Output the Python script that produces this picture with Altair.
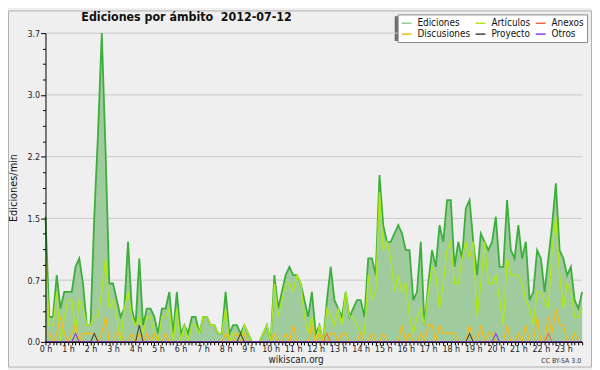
import altair as alt
import pandas as pd

FONT = "DejaVu Sans Condensed, DejaVu Sans, sans-serif"

title_text = "Ediciones por ámbito\u00a0 2012-07-12"
y_title = "Ediciones/min"
series_names = ["Ediciones", "Artículos", "Anexos", "Discusiones", "Proyecto", "Otros"]
series_colors = ["#8fce8f", "#aee81a", "#f06a3a", "#f2bb1a", "#444444", "#8a3be0"]

# 10-minute slots, edits per minute
ediciones = [
    1.5, 0.3, 0.3, 0.8, 0.4, 0.6, 0.6, 0.6, 0.9, 1.0, 0.7, 0.2, 0.2,
    1.5, 2.5, 3.7, 2.3, 0.7, 0.7, 0.5, 0.3, 0.4, 1.2, 0.4, 0.2, 1.0, 0.2, 0.4, 0.4, 0.3, 0.1, 0.4, 0.4, 0.6, 0.1, 0.6,
    0.1, 0.2, 0.1, 0.3, 0.3, 0.1, 0.3, 0.3, 0.2, 0.2, 0.1, 0.1, 0.6, 0.1, 0.2, 0.2, 0.1, 0.2, 0.1, 0.0, 0.0, 0.0, 0.1, 0.2, 0.0,
    0.8, 0.4, 0.6, 0.8, 0.9, 0.8, 0.8, 0.7, 0.5, 0.3, 0.6, 0.1, 0.2, 0.0, 0.5, 0.9, 0.5, 0.4, 0.3, 0.6, 0.3, 0.4, 0.5, 0.5, 0.3, 1.0, 1.0, 0.8, 2.0, 1.4, 1.2, 1.2, 1.3,
    1.4, 1.3, 1.1, 1.1, 0.5, 0.6, 1.2, 0.2, 0.7, 1.1, 0.9, 1.4, 1.2, 1.7, 1.7, 0.9, 1.2, 1.0, 1.6, 1.7, 1.2, 0.8, 1.3, 1.2, 1.1,
    1.2, 1.5, 0.9, 0.9, 1.7, 1.1, 1.0, 1.4, 1.0, 1.2, 0.5, 0.6, 1.1, 1.0, 0.6, 1.0, 1.4, 1.9, 1.1, 1.0, 0.8, 0.9, 0.5, 0.4, 0.6,
]
articulos = [
    1.0, 0.2, 0.2, 0.6, 0.0, 0.3, 0.5, 0.5, 0.1, 0.5, 0.4, 0.2, 0.2,
    0.3, 0.3, 0.6, 1.0, 0.4, 0.5, 0.3, 0.0, 0.4, 0.6, 0.3, 0.2, 0.3, 0.1, 0.3, 0.3, 0.1, 0.0, 0.3, 0.3, 0.4, 0.0, 0.4,
    0.0, 0.2, 0.0, 0.2, 0.2, 0.1, 0.3, 0.3, 0.2, 0.2, 0.1, 0.1, 0.4, 0.0, 0.1, 0.1, 0.0, 0.2, 0.1, 0.0, 0.0, 0.0, 0.1, 0.2, 0.0,
    0.7, 0.3, 0.5, 0.7, 0.7, 0.6, 0.8, 0.7, 0.3, 0.1, 0.3, 0.0, 0.2, 0.0, 0.4, 0.3, 0.2, 0.4, 0.2, 0.6, 0.3, 0.3, 0.2, 0.1, 0.1, 0.8, 0.5, 0.6, 1.8, 1.1, 1.2, 1.0, 0.6,
    0.8, 0.6, 0.7, 0.3, 0.1, 0.3, 0.4, 0.2, 0.6, 0.9, 0.8, 0.4, 0.7, 1.1, 1.2, 0.7, 0.7, 1.0, 1.2, 1.0, 1.2, 0.3, 0.7, 1.2, 0.7,
    0.7, 0.8, 0.5, 0.2, 1.0, 0.8, 0.8, 0.8, 0.7, 0.5, 0.4, 0.2, 0.6, 0.6, 0.5, 0.4, 1.1, 1.5, 0.8, 0.4, 0.7, 0.6, 0.3, 0.3, 0.4,
]
discusiones = [
    0.1, 0.1, 0.0, 0.1, 0.3, 0.1, 0.0, 0.1, 0.2, 0.0, 0.1, 0.1, 0.1,
    0.1, 0.0, 0.1, 0.3, 0.0, 0.0, 0.1, 0.1, 0.0, 0.0, 0.1, 0.0, 0.1, 0.0, 0.1, 0.0, 0.1, 0.0, 0.0, 0.1, 0.0, 0.0, 0.0,
    0.0, 0.0, 0.0, 0.0, 0.0, 0.0, 0.0, 0.0, 0.0, 0.0, 0.0, 0.0, 0.1, 0.0, 0.0, 0.1, 0.0, 0.1, 0.0, 0.0, 0.0, 0.0, 0.0, 0.0, 0.0,
    0.1, 0.0, 0.0, 0.1, 0.0, 0.2, 0.0, 0.0, 0.0, 0.0, 0.2, 0.0, 0.1, 0.0, 0.0, 0.1, 0.1, 0.0, 0.1, 0.1, 0.0, 0.0, 0.0, 0.1, 0.0, 0.0, 0.1, 0.0, 0.0, 0.1, 0.0, 0.0, 0.0,
    0.0, 0.2, 0.0, 0.1, 0.0, 0.0, 0.1, 0.0, 0.2, 0.2, 0.0, 0.2, 0.1, 0.1, 0.1, 0.1, 0.0, 0.0, 0.0, 0.2, 0.0, 0.0, 0.2, 0.0, 0.1,
    0.1, 0.0, 0.0, 0.0, 0.2, 0.0, 0.0, 0.1, 0.0, 0.2, 0.0, 0.0, 0.3, 0.0, 0.0, 0.3, 0.1, 0.4, 0.2, 0.2, 0.0, 0.0, 0.1, 0.0, 0.0,
]
# sparse series: slot index -> value (all other slots are 0)
anexos_nonzero = {75: 0.1, 134: 0.1}
proyecto_nonzero = {13: 0.1, 25: 0.2, 52: 0.1, 113: 0.1}
otros_nonzero = {8: 0.1, 120: 0.1}

y_major = [0.0, 0.74, 1.48, 2.22, 2.96, 3.7]

n = len(ediciones)
times = [i * 10 / 60 for i in range(n)]
y_ticks = [round(k * 0.185, 4) for k in range(21)]


def expand(d):
    return [d.get(i, 0.0) for i in range(n)]


area_df = pd.DataFrame({"t": times, "v": ediciones})
line_series = [
    ("Artículos", articulos),
    ("Discusiones", discusiones),
    ("Anexos", expand(anexos_nonzero)),
    ("Proyecto", expand(proyecto_nonzero)),
    ("Otros", expand(otros_nonzero)),
]

major_test = "abs(datum.value / 0.74 - round(datum.value / 0.74)) < 0.001"

x_enc = alt.X(
    "t:Q",
    scale=alt.Scale(domain=[0, times[-1]], nice=False, zero=False),
    axis=alt.Axis(
        values=times,
        labelExpr="datum.value % 1 === 0 ? datum.value + ' h' : ''",
        tickSize=3, tickColor="black", domainColor="black", labelFont=FONT,
        labelFontSize=9, labelColor="#222", labelPadding=0, labelFlush=False,
        labelOverlap=False, grid=False, zindex=1, title=None,
    ),
)
y_enc = alt.Y(
    "v:Q",
    scale=alt.Scale(domain=[0, 3.7], nice=False, zero=True),
    axis=alt.Axis(
        values=y_ticks,
        labelExpr=f"{major_test} ? format(datum.value, '.1f') : ''",
        tickSize={"condition": {"test": major_test, "value": 5}, "value": 3},
        tickColor="black", domainColor="black", labelFont=FONT, labelFontSize=9,
        labelColor="#222", labelPadding=1, grid=False, zindex=1,
        title=y_title, titleFont=FONT, titleFontSize=11, titleFontWeight="normal",
        titleColor="#111", titlePadding=8, labelOverlap=False,
    ),
)

color_scale = alt.Scale(domain=series_names, range=series_colors)
legend = alt.Legend(
    orient="none", legendX=357, legendY=-19, columns=3, direction="horizontal",
    symbolType="stroke", symbolSize=100, symbolStrokeWidth=1.5, title=None,
    labelFont=FONT, labelFontSize=10, labelColor="#111", fillColor="white",
    strokeColor="#888888", padding=3, rowPadding=0, columnPadding=2, labelOffset=5,
    labelLimit=0,
)

one = pd.DataFrame({"k": [0]})

frame = alt.Chart(one).mark_rect(fill="#efefef", stroke="#b0b0b0", strokeWidth=1).encode(
    x=alt.value(-37.5), x2=alt.value(553.5), y=alt.value(-22.5), y2=alt.value(338.5)
)
grid = alt.Chart(pd.DataFrame({"v": y_major[1:]})).mark_rule(color="#c9c9c9", strokeWidth=1).encode(y=y_enc)
area = alt.Chart(area_df).mark_area(
    color="#9fcb9f", opacity=1, line={"color": "#3cae3c", "strokeWidth": 1.8}
).encode(x=x_enc, y=y_enc)

line_layers = []
for name, vals in line_series:
    df = pd.DataFrame({"t": times, "v": vals, "serie": name})
    line_layers.append(
        alt.Chart(df).mark_line(strokeWidth=1.4 if name in ("Artículos", "Discusiones") else 1.1).encode(
            x=x_enc, y=y_enc, color=alt.Color("serie:N", scale=color_scale, legend=legend)
        )
    )

shadow = alt.Chart(one).mark_rect(fill="#6e6e6e").encode(
    x=alt.value(354), x2=alt.value(544), y=alt.value(-17), y2=alt.value(8)
)
title = alt.Chart(pd.DataFrame({"label": [title_text]})).mark_text(
    font=FONT, fontSize=12.5, fontWeight="bold", align="center", baseline="alphabetic", color="#111"
).encode(x=alt.value(143), y=alt.value(-12), text="label:N")
site = alt.Chart(pd.DataFrame({"label": ["wikiscan.org"]})).mark_text(
    font=FONT, fontSize=10, align="center", baseline="alphabetic", color="#222"
).encode(x=alt.value(254), y=alt.value(334), text="label:N")
lic = alt.Chart(pd.DataFrame({"label": ["CC BY-SA 3.0"]})).mark_text(
    font=FONT, fontSize=7, align="right", baseline="alphabetic", color="#333"
).encode(x=alt.value(543), y=alt.value(334), text="label:N")

layers = [frame, shadow, grid, area] + line_layers + [title, site, lic]

chart = alt.layer(*layers).properties(
    width=544, height=313,
    autosize=alt.AutoSizeParams(type="none"),
    padding={"left": 38, "top": 23, "right": 10, "bottom": 26},
    background="#efefef",
).configure_view(fill="#eef0f2", strokeWidth=0)

chart.save("out.html", embed_options={"renderer": "svg", "actions": False})
